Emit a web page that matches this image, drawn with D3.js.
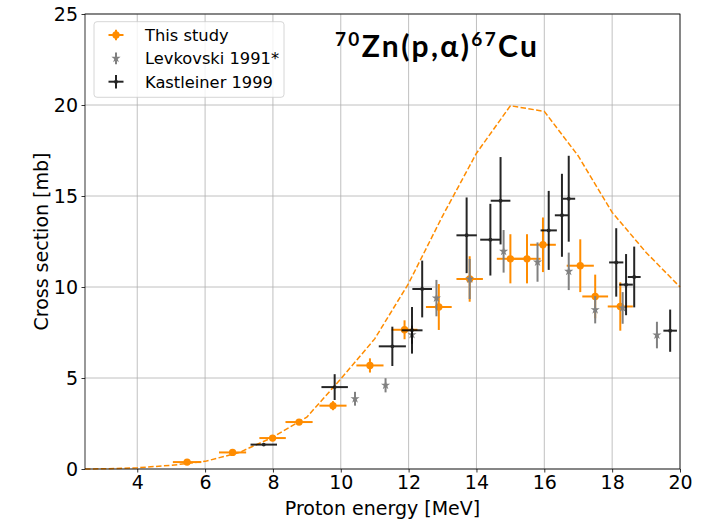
<!DOCTYPE html>
<html>
<head>
<meta charset="utf-8">
<script src="https://cdn.jsdelivr.net/npm/d3@7"></script>
<style>
  html, body { margin: 0; padding: 0; background: #fff; }
  svg { display: block; font-family: "DejaVu Sans", sans-serif; }
</style>
</head>
<body>
<div id="chart"></div>
<script>
// ─────────────────────────────────────────────
// 70Zn(p,α)67Cu cross section
// ─────────────────────────────────────────────

// This study: energy, energy error, cross section, cross section error
const studyE = [5.47, 6.81, 7.99, 8.77, 9.77, 10.86, 11.88, 12.89, 13.80, 15.00, 15.49, 15.96, 17.06, 17.50, 18.24];
const studyDE = [0.42, 0.40, 0.39, 0.40, 0.40, 0.40, 0.38, 0.38, 0.39, 0.40, 0.40, 0.38, 0.40, 0.38, 0.37];
const studyXS = [0.38, 0.91, 1.70, 2.58, 3.48, 5.69, 7.65, 8.90, 10.44, 11.55, 11.55, 12.32, 11.17, 9.48, 8.93];
const studyDXS = [0.05, 0.08, 0.12, 0.15, 0.25, 0.39, 0.52, 1.26, 1.25, 1.35, 1.35, 1.50, 1.45, 1.20, 1.33];

// Levkovski 1991* (no energy errors)
const levE = [10.42, 11.32, 12.10, 12.82, 13.80, 14.80, 15.80, 16.72, 17.50, 18.31, 19.32];
const levXS = [3.86, 4.60, 7.38, 9.39, 10.44, 11.96, 11.37, 10.86, 8.75, 8.85, 7.36];
const levDXS = [0.38, 0.39, 0.50, 1.00, 1.10, 1.17, 1.08, 1.03, 0.75, 0.87, 0.73];

// Kastleiner 1999
const kasE = [7.73, 9.82, 11.52, 12.10, 12.40, 13.71, 14.41, 14.71, 16.13, 16.52, 16.72, 18.12, 18.41, 18.65, 19.71];
const kasDE = [0.39, 0.39, 0.40, 0.31, 0.29, 0.30, 0.30, 0.29, 0.24, 0.21, 0.19, 0.21, 0.20, 0.19, 0.20];
const kasXS = [1.34, 4.50, 6.74, 7.62, 9.89, 12.84, 12.60, 14.74, 13.11, 13.94, 14.85, 11.35, 10.13, 10.55, 7.60];
const kasDXS = [0.06, 0.71, 1.08, 1.28, 1.56, 2.08, 1.97, 2.40, 2.17, 2.28, 2.36, 1.88, 1.68, 1.67, 1.16];

// dashed model curve
const modelE = [2.46, 3, 4, 5, 6, 7, 8, 9, 10, 11, 12, 13, 14, 15, 16, 17, 18, 19, 20];
const modelXS = [0, 0.01, 0.07, 0.2, 0.42, 0.9, 1.75, 2.85, 4.95, 7.15, 10.2, 13.9, 17.35, 19.96, 19.65, 17.2, 14.1, 11.9, 10.0];

const xTicks = [4, 6, 8, 10, 12, 14, 16, 18, 20];
const yTicks = [0, 5, 10, 15, 20, 25];

const ORANGE = "#ff8c00";
const GRAY = "#808080";
const BLACK = "#000";

const W = 715, H = 520;
const mLeft = 85, mRight = 680, mTop = 14, mBottom = 469;

const svg = d3.select("#chart").append("svg")
  .attr("width", W)
  .attr("height", H);

const x = d3.scaleLinear().domain([2.46, 20]).range([mLeft, mRight]);
const y = d3.scaleLinear().domain([0, 25]).range([mBottom, mTop]);

// grid
svg.append("g")
  .selectAll("line")
  .data(xTicks)
  .join("line")
  .attr("x1", (d) => x(d)).attr("x2", (d) => x(d))
  .attr("y1", mTop).attr("y2", mBottom)
  .attr("stroke", "#b0b0b0").attr("stroke-width", 0.8);

svg.append("g")
  .selectAll("line")
  .data(yTicks)
  .join("line")
  .attr("x1", mLeft).attr("x2", mRight)
  .attr("y1", (d) => y(d)).attr("y2", (d) => y(d))
  .attr("stroke", "#b0b0b0").attr("stroke-width", 0.8);

// axes
const xAxis = svg.append("g")
  .attr("transform", `translate(0,${mBottom})`)
  .call(d3.axisBottom(x).tickValues(xTicks).tickSize(3.5).tickPadding(3.5));
const yAxis = svg.append("g")
  .attr("transform", `translate(${mLeft},0)`)
  .call(d3.axisLeft(y).tickValues(yTicks).tickSize(3.5).tickPadding(3.5));

[xAxis, yAxis].forEach((a) => {
  a.select(".domain").remove();
  a.selectAll("text")
    .attr("font-family", "DejaVu Sans")
    .attr("font-size", "19px")
    .attr("fill", "#000");
  a.selectAll("line").attr("stroke", "#000").attr("stroke-width", 0.8);
});

// axis labels
svg.append("text")
  .attr("x", (mLeft + mRight) / 2)
  .attr("y", 515)
  .attr("text-anchor", "middle")
  .attr("font-size", "19px")
  .text("Proton energy [MeV]");

svg.append("text")
  .attr("transform", `translate(47.5,${(mTop + mBottom) / 2}) rotate(-90)`)
  .attr("text-anchor", "middle")
  .attr("font-size", "19px")
  .text("Cross section [mb]");

// plot area
const plot = svg.append("g");

// model curve
const line = d3.line()
  .x((d) => x(d[0]))
  .y((d) => y(d[1]));

plot.append("path")
  .datum(modelE.map((e, i) => [e, modelXS[i]]))
  .attr("d", line)
  .attr("fill", "none")
  .attr("stroke", ORANGE)
  .attr("stroke-width", 1.5)
  .attr("stroke-dasharray", "5.5,2.4");

/**
 * error bar series
 */
function drawSeries(E, DE, XS, DXS, color, opacity, marker) {
  const rows = E.map((e, i) => ({ e, de: DE ? DE[i] : 0, s: XS[i], ds: DXS[i] }));
  const g = plot.append("g").attr("opacity", opacity);

  if (DE) {
    g.selectAll(".xerr")
      .data(rows)
      .join("line")
      .attr("class", "xerr")
      .attr("x1", (d) => x(d.e - d.de)).attr("x2", (d) => x(d.e + d.de))
      .attr("y1", (d) => y(d.s)).attr("y2", (d) => y(d.s))
      .attr("stroke", color).attr("stroke-width", 2);
  }

  g.selectAll(".yerr")
    .data(rows)
    .join("line")
    .attr("class", "yerr")
    .attr("x1", (d) => x(d.e)).attr("x2", (d) => x(d.e))
    .attr("y1", (d) => y(d.s - d.ds)).attr("y2", (d) => y(d.s + d.ds))
    .attr("stroke", color).attr("stroke-width", 2);

  g.selectAll(".mark")
    .data(rows)
    .join("path")
    .attr("class", "mark")
    .attr("transform", (d) => `translate(${x(d.e)},${y(d.s)})`)
    .attr("d", marker)
    .attr("fill", color);
}

const circle = d3.symbol(d3.symbolCircle, 42)();
const star = d3.symbol(d3.symbolStar, 26)();
const dot = d3.symbol(d3.symbolCircle, 12)();

drawSeries(studyE, studyDE, studyXS, studyDXS, ORANGE, 1, circle);
drawSeries(levE, null, levXS, levDXS, GRAY, 1, star);
drawSeries(kasE, kasDE, kasXS, kasDXS, BLACK, 0.85, dot);

// frame
svg.append("rect")
  .attr("x", mLeft).attr("y", mTop)
  .attr("width", mRight - mLeft).attr("height", mBottom - mTop)
  .attr("fill", "none")
  .attr("stroke", "#000")
  .attr("stroke-width", 0.8);

// title: natural glyphs, spacing stretched so the whole line spans 335..537
const title = svg.append("text")
  .attr("x", 335)
  .attr("y", 57)
  .attr("font-family", "Lato, 'Open Sans', sans-serif")
  .attr("font-weight", "bold")
  .attr("font-size", "30px")
  .attr("fill", "#000");
title.append("tspan").attr("font-size", "19px").attr("dy", -11).text("70");
title.append("tspan").attr("dy", 11).text("Zn(p,α)");
title.append("tspan").attr("font-size", "19px").attr("dy", -11).text("67");
title.append("tspan").attr("dy", 11).text("Cu");

const tw = title.node().getBBox().width;
const nChars = 13;
title.attr("letter-spacing", `${Math.max(0, (202 - tw) / (nChars - 1))}px`);

// legend
const legend = svg.append("g");
legend.append("rect")
  .attr("x", 94).attr("y", 21.7)
  .attr("width", 190).attr("height", 75.6)
  .attr("rx", 3)
  .attr("fill", "#fff").attr("fill-opacity", 0.8)
  .attr("stroke", "#cccccc").attr("stroke-width", 0.8);

const items = [
  { label: "This study", color: ORANGE, opacity: 1, marker: circle, hx: 7.5, hy: 5.3 },
  { label: "Levkovski 1991*", color: GRAY, opacity: 1, marker: star, hx: 0, hy: 5.8 },
  { label: "Kastleiner 1999", color: BLACK, opacity: 0.85, marker: dot, hx: 7.5, hy: 6.7 },
];

items.forEach((it, i) => {
  const cy = 35 + i * 23.35;
  const g = legend.append("g").attr("opacity", it.opacity);
  if (it.hx) {
    g.append("line")
      .attr("x1", 116 - it.hx).attr("x2", 116 + it.hx)
      .attr("y1", cy).attr("y2", cy)
      .attr("stroke", it.color).attr("stroke-width", 2);
  }
  g.append("line")
    .attr("x1", 116).attr("x2", 116)
    .attr("y1", cy - it.hy).attr("y2", cy + it.hy)
    .attr("stroke", it.color).attr("stroke-width", 2);
  g.append("path")
    .attr("transform", `translate(116,${cy})`)
    .attr("d", it.marker)
    .attr("fill", it.color);
  legend.append("text")
    .attr("x", 145)
    .attr("y", cy + 5.8)
    .attr("font-size", "16.3px")
    .attr("fill", "#000")
    .text(it.label);
});
</script>
</body>
</html>
